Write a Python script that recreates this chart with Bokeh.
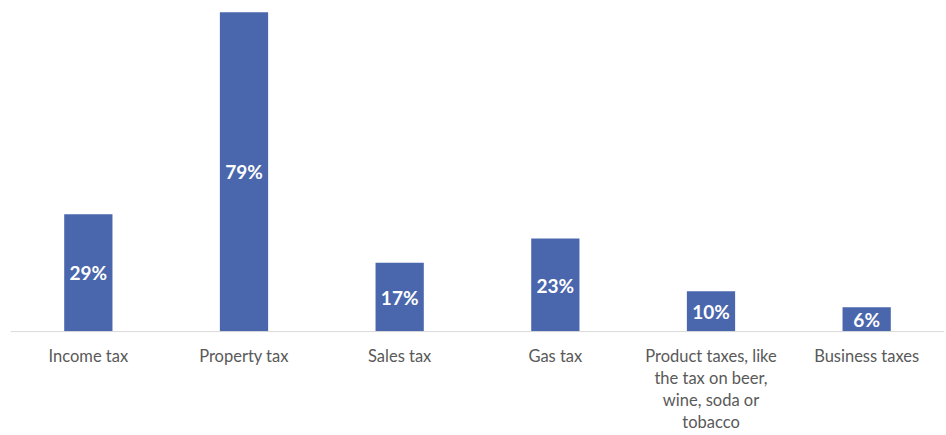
from bokeh.plotting import figure
from bokeh.models import ColumnDataSource, Range1d, FactorRange, LabelSet, Span
from bokeh.core.properties import value
from bokeh.embed import file_html
from bokeh.resources import INLINE

categories = ["Income tax", "Property tax", "Sales tax", "Gas tax",
              "Product taxes, like\nthe tax on beer,\nwine, soda or\ntobacco", "Business taxes"]
values = [29, 79, 17, 23, 10, 6]
labels = [f"{v}%" for v in values]

src = ColumnDataSource(dict(cat=categories, val=values, mid=[v / 2 for v in values],
                            lab=labels, zero=[0] * len(values)))

p = figure(width=946, height=435, x_range=FactorRange(*categories), y_range=Range1d(-25.7, 81.9),
           output_backend="svg", toolbar_location=None,
           min_border_left=10, min_border_right=2, min_border_top=0, min_border_bottom=0)
p.vbar(x="cat", top="val", width=0.31, source=src, fill_color="#4A66AC", line_color=None)
p.add_layout(Span(location=0, dimension="width", line_color="#D9D9D9", line_width=1))
p.add_layout(LabelSet(x="cat", y="mid", text="lab", source=src, text_color="white",
                      text_font=value("Lato"), text_font_style="bold", text_font_size="19px",
                      text_align="center", text_baseline="middle"))
p.text(x="cat", y="zero", text="cat", source=src, y_offset=14,
       text_font=value("Lato"), text_font_size="16.5px", text_color="#595959",
       text_align="center", text_baseline="top", text_line_height=1.1)
p.xaxis.visible = False
p.yaxis.visible = False
p.xgrid.visible = False
p.ygrid.visible = False
p.outline_line_color = None
p.x_range.range_padding = 0
p.background_fill_color = "white"
p.border_fill_color = "white"

open("out.html", "w").write(file_html(p, INLINE))
